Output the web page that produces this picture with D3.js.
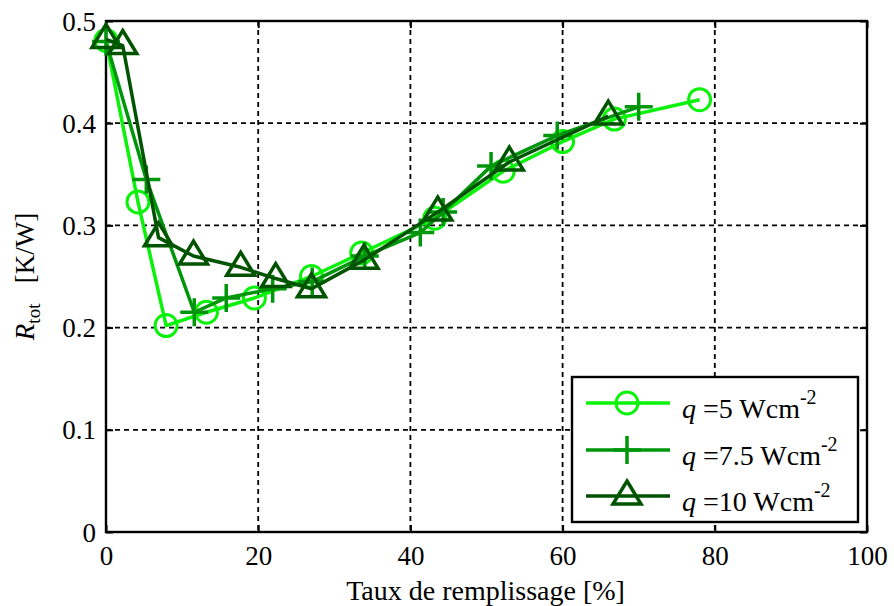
<!DOCTYPE html>
<html>
<head>
<meta charset="utf-8">
<script src="https://cdn.jsdelivr.net/npm/d3@7"></script>
<style>
  html, body { margin: 0; padding: 0; background: #fff; }
  svg { display: block; }
</style>
</head>
<body>
<svg id="chart" width="894" height="606"></svg>
<script>
// ---- Data ----
const xTicks = [0, 20, 40, 60, 80, 100];
const yTicks = [0, 0.1, 0.2, 0.3, 0.4, 0.5];
const yTickLabels = ["0", "0.1", "0.2", "0.3", "0.4", "0.5"];

const seriesNames = ["5", "7.5", "10"];

const q5x = [0, 4.2, 7.9, 13.2, 19.5, 27.0, 33.6, 43.2, 52.2, 60.0, 66.8, 78.0];
const q5y = [0.481, 0.323, 0.202, 0.215, 0.229, 0.250, 0.273, 0.307, 0.353, 0.382, 0.404, 0.423];

const q75x = [0, 5.3, 11.6, 15.8, 21.9, 27.1, 34.0, 41.3, 44.3, 50.6, 59.3, 70.0];
const q75y = [0.480, 0.345, 0.215, 0.229, 0.238, 0.245, 0.270, 0.293, 0.313, 0.358, 0.388, 0.416];

const q10x = [0, 2.2, 6.9, 11.5, 17.7, 22.3, 27.0, 33.9, 43.6, 53.0, 66.0];
const q10y = [0.482, 0.476, 0.288, 0.270, 0.259, 0.248, 0.238, 0.266, 0.313, 0.362, 0.407];

const colors = ["#0af20a", "#00960b", "#005400"];
const markers = ["circle", "plus", "triangle"];

const FONT = '"Liberation Serif", "Times New Roman", serif';

const svg = d3.select("#chart");
const L = 106, R = 867, T = 21, B = 532;
const x = d3.scaleLinear().domain([0, 100]).range([L, R]);
const y = d3.scaleLinear().domain([0, 0.5]).range([B, T]);

svg.append("rect").attr("x", 0).attr("y", 0).attr("width", 894).attr("height", 606).attr("fill", "#fff");

// grid
const grid = svg.append("g");
grid.selectAll("line.gx").data(xTicks.filter(d => d > 0 && d < 100)).enter().append("line")
  .attr("x1", d => x(d)).attr("x2", d => x(d)).attr("y1", T).attr("y2", B)
  .attr("stroke", "#000").attr("stroke-width", 1.8).attr("stroke-dasharray", "5,4");
grid.selectAll("line.gy").data(yTicks.filter(d => d > 0 && d < 0.5)).enter().append("line")
  .attr("y1", d => y(d)).attr("y2", d => y(d)).attr("x1", L).attr("x2", R)
  .attr("stroke", "#000").attr("stroke-width", 1.8).attr("stroke-dasharray", "5,4");

// axes (inward ticks, MATLAB style)
const tickLen = 7;
const axB = svg.append("g").attr("transform", `translate(0,${B})`)
  .call(d3.axisBottom(x).tickValues(xTicks).tickSizeInner(-tickLen).tickSizeOuter(0).tickPadding(12));
const axT = svg.append("g").attr("transform", `translate(0,${T})`)
  .call(d3.axisTop(x).tickValues(xTicks).tickSizeInner(-tickLen).tickSizeOuter(0).tickFormat(""));
const axLft = svg.append("g").attr("transform", `translate(${L},0)`)
  .call(d3.axisLeft(y).tickValues(yTicks).tickSizeInner(-tickLen).tickSizeOuter(0).tickPadding(10)
    .tickFormat((d, i) => yTickLabels[i]));
const axRgt = svg.append("g").attr("transform", `translate(${R},0)`)
  .call(d3.axisRight(y).tickValues(yTicks).tickSizeInner(-tickLen).tickSizeOuter(0).tickFormat(""));
[axB, axT, axLft, axRgt].forEach(a => {
  a.select(".domain").remove();
  a.selectAll(".tick line").attr("stroke", "#000").attr("stroke-width", 2);
  a.selectAll(".tick text").style("font-family", FONT).attr("font-size", 27).attr("fill", "#000");
});
axB.selectAll(".tick text").attr("dy", "0.78em");
axLft.selectAll(".tick text").attr("dy", "0.34em");

// box
svg.append("rect").attr("x", L).attr("y", T).attr("width", R - L).attr("height", B - T)
  .attr("fill", "none").attr("stroke", "#000").attr("stroke-width", 2.4);

function drawMarker(g, type, cx, cy, color) {
  if (type === "circle") {
    g.append("circle").attr("cx", cx).attr("cy", cy).attr("r", 11)
      .attr("fill", "none").attr("stroke", color).attr("stroke-width", 3);
  } else if (type === "plus") {
    g.append("path").attr("d", `M${cx - 14},${cy}H${cx + 14}M${cx},${cy - 14}V${cy + 14}`)
      .attr("fill", "none").attr("stroke", color).attr("stroke-width", 3.5);
  } else {
    g.append("path").attr("d", `M${cx},${cy - 15}L${cx + 14},${cy + 8}L${cx - 14},${cy + 8}Z`)
      .attr("fill", "none").attr("stroke", color).attr("stroke-width", 3.5).attr("stroke-linejoin", "miter");
  }
}

const allSeries = [
  { xs: q5x, ys: q5y },
  { xs: q75x, ys: q75y },
  { xs: q10x, ys: q10y }
];

const line = d3.line().x(d => x(d[0])).y(d => y(d[1]));
allSeries.forEach((s, i) => {
  const pts = s.xs.map((v, j) => [v, s.ys[j]]);
  const g = svg.append("g");
  g.append("path").datum(pts).attr("d", line).attr("fill", "none")
    .attr("stroke", colors[i]).attr("stroke-width", 3.5).attr("stroke-linejoin", "round");
  pts.forEach(p => drawMarker(g, markers[i], x(p[0]), y(p[1]), colors[i]));
});

// axis labels
svg.append("text").attr("x", (L + R) / 2 - 1).attr("y", 600).attr("text-anchor", "middle")
  .style("font-family", FONT).attr("font-size", 28).attr("fill", "#000").text("Taux de remplissage [%]");

const yl = svg.append("text").attr("transform", `translate(34,${(T + B) / 2}) rotate(-90)`)
  .attr("text-anchor", "middle").style("font-family", FONT).attr("font-size", 27).attr("fill", "#000");
yl.append("tspan").attr("font-style", "italic").text("R");
yl.append("tspan").attr("font-size", 19).attr("dy", 6).text("tot");
yl.append("tspan").attr("dy", -6).text("\u00a0\u00a0\u00a0[K/W]");

// legend
const lg = svg.append("g");
lg.append("rect").attr("x", 572).attr("y", 377).attr("width", 286).attr("height", 145)
  .attr("fill", "#fff").attr("stroke", "#000").attr("stroke-width", 2.4);
const rowY = [403, 450, 496];
seriesNames.forEach((nm, i) => {
  lg.append("line").attr("x1", 586).attr("x2", 670).attr("y1", rowY[i]).attr("y2", rowY[i])
    .attr("stroke", colors[i]).attr("stroke-width", 3.5);
  drawMarker(lg, markers[i], 627, rowY[i], colors[i]);
  const t = lg.append("text").attr("x", 682).attr("y", rowY[i] + 15)
    .style("font-family", FONT).attr("font-size", 28).attr("fill", "#000");
  t.append("tspan").attr("font-style", "italic").text("q");
  t.append("tspan").text("\u00a0=" + nm + " Wcm");
  t.append("tspan").attr("font-size", 20).attr("dy", -14).text("-2");
});
</script>
</body>
</html>
